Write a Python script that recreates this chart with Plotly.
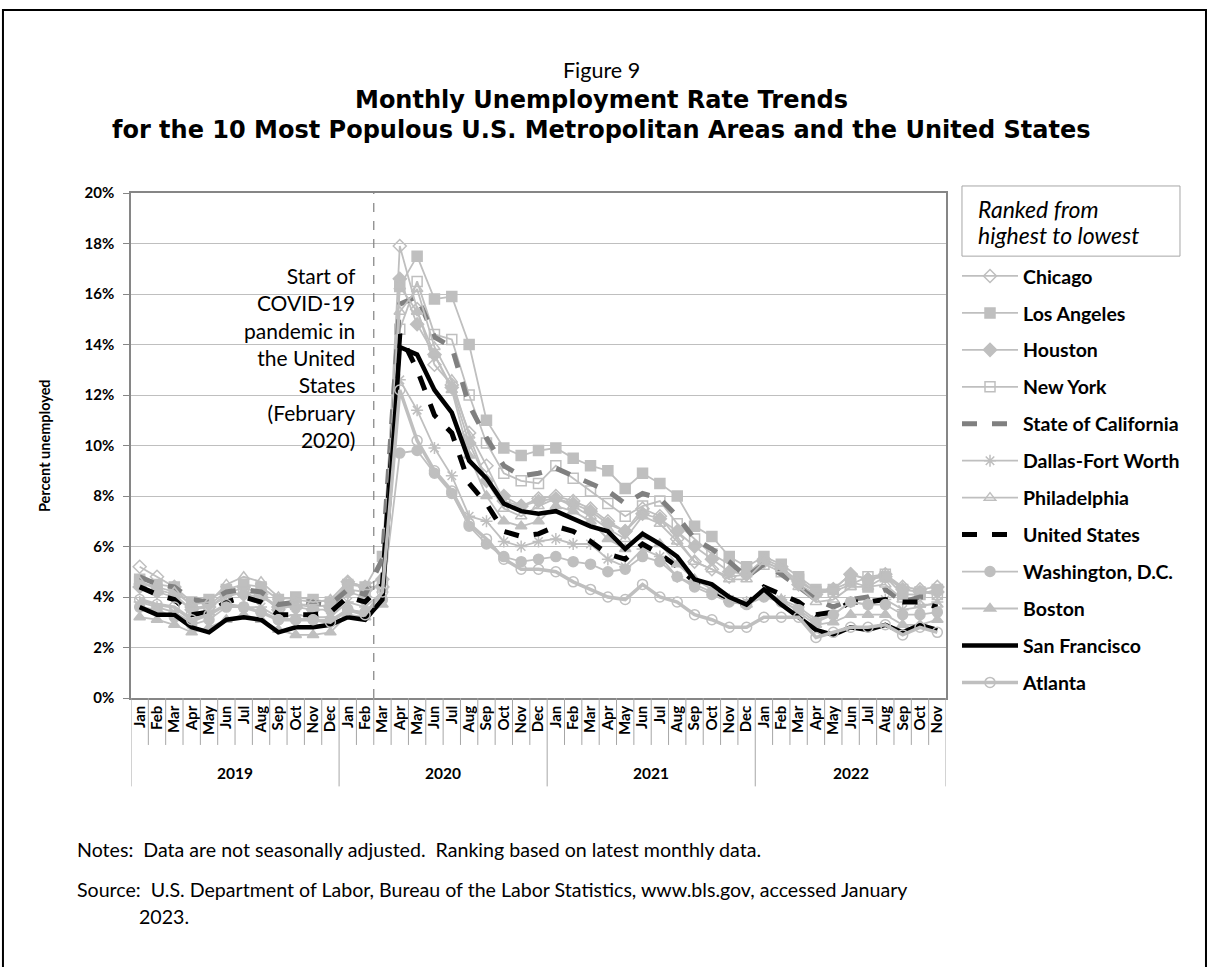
import plotly.graph_objects as go

# --- data (percent unemployed, not seasonally adjusted), Jan 2019 - Nov 2022 ---
month_names = ["Jan", "Feb", "Mar", "Apr", "May", "Jun", "Jul", "Aug", "Sep", "Oct", "Nov", "Dec"]
years = ["2019", "2020", "2021", "2022"]
months = month_names * 3 + month_names[:11]

chicago = [5.2, 4.8, 4.4, 3.6, 3.6, 4.1, 4.4, 4.1, 3.5, 3.7, 3.7, 3.6,
           4.6, 4.4, 4.4, 17.9, 15.4, 13.2, 12.4, 10.5, 9.2, 7.8, 7.6, 7.9,
           8.0, 7.8, 7.5, 7.0, 6.6, 7.5, 7.2, 6.3, 5.4, 5.1, 4.8, 4.9,
           5.5, 5.2, 4.6, 4.2, 4.3, 4.9, 4.7, 4.9, 4.4, 4.3, 4.4]
los_angeles = [4.7, 4.5, 4.4, 3.8, 3.9, 4.3, 4.5, 4.4, 3.9, 4.0, 3.9, 3.8,
               4.5, 4.4, 5.6, 16.3, 17.5, 15.8, 15.9, 14.0, 11.0, 9.9, 9.6, 9.8,
               9.9, 9.5, 9.2, 9.0, 8.3, 8.9, 8.5, 8.0, 6.8, 6.4, 5.6, 5.2,
               5.6, 5.3, 4.8, 4.3, 4.3, 4.6, 4.4, 4.8, 4.1, 4.1, 4.3]
houston = [4.4, 4.2, 4.0, 3.5, 3.7, 4.2, 4.1, 4.0, 3.6, 3.6, 3.5, 3.5,
           4.2, 4.0, 4.7, 16.6, 14.8, 13.6, 12.3, 10.1, 8.6, 8.0, 7.6, 7.8,
           7.9, 7.7, 7.4, 6.9, 6.6, 7.3, 7.1, 6.6, 6.0, 5.5, 5.0, 4.9,
           5.4, 5.1, 4.5, 4.1, 4.3, 4.9, 4.7, 4.8, 4.3, 4.2, 4.2]
new_york = [4.6, 4.3, 4.1, 3.5, 3.6, 4.0, 4.2, 4.1, 3.6, 3.7, 3.6, 3.7,
            4.3, 4.2, 4.5, 14.6, 16.5, 14.4, 14.2, 12.0, 10.1, 8.9, 8.6, 8.5,
            9.2, 8.7, 8.2, 7.7, 7.2, 7.6, 7.8, 6.9, 6.3, 5.7, 5.3, 5.0,
            5.3, 5.0, 4.7, 4.2, 4.2, 4.5, 4.8, 4.9, 4.3, 4.2, 4.1]
california = [4.8, 4.5, 4.4, 3.9, 3.8, 4.2, 4.3, 4.2, 3.7, 3.8, 3.8, 3.7,
              4.3, 4.1, 5.5, 15.6, 15.9, 14.3, 13.9, 11.6, 10.3, 9.2, 8.8, 8.9,
              9.1, 8.8, 8.5, 8.2, 7.7, 8.1, 7.9, 7.2, 6.3, 5.9, 5.4, 4.8,
              5.3, 4.9, 4.4, 3.9, 3.6, 3.9, 4.0, 4.3, 3.8, 4.0, 4.0]
dallas = [3.8, 3.6, 3.4, 3.0, 3.3, 3.7, 3.6, 3.6, 3.2, 3.3, 3.2, 3.2,
          3.8, 3.6, 4.2, 12.6, 11.4, 9.9, 8.8, 7.2, 7.0, 6.2, 6.0, 6.2,
          6.3, 6.1, 6.1, 5.5, 5.2, 5.9, 5.6, 4.8, 4.5, 4.2, 3.9, 3.8,
          4.1, 3.9, 3.6, 3.1, 3.3, 3.8, 3.7, 3.9, 3.5, 3.6, 3.8]
philadelphia = [4.6, 4.4, 4.2, 3.7, 3.8, 4.5, 4.8, 4.6, 4.0, 3.9, 3.8, 3.9,
                4.6, 4.4, 4.8, 15.3, 16.2, 13.9, 12.6, 10.4, 8.6, 7.5, 7.2, 7.6,
                7.9, 7.6, 7.2, 6.7, 6.3, 7.2, 6.9, 6.2, 5.4, 5.1, 4.7, 4.7,
                5.4, 5.1, 4.4, 3.8, 3.9, 4.4, 4.4, 4.5, 3.9, 3.7, 3.7]
united_states = [4.4, 4.1, 3.9, 3.3, 3.4, 3.8, 4.0, 3.8, 3.3, 3.3, 3.3, 3.4,
                 4.0, 3.8, 4.5, 14.4, 13.0, 11.2, 10.5, 8.5, 7.7, 6.6, 6.4, 6.5,
                 6.8, 6.6, 6.2, 5.7, 5.5, 6.1, 5.7, 5.2, 4.6, 4.3, 3.9, 3.7,
                 4.4, 4.1, 3.8, 3.3, 3.4, 3.8, 3.8, 3.9, 3.8, 3.8, 3.6]
washington = [3.6, 3.5, 3.2, 2.9, 3.1, 3.6, 3.6, 3.4, 3.1, 3.1, 3.1, 3.1,
              3.5, 3.4, 3.9, 9.7, 9.8, 8.9, 8.1, 6.8, 6.1, 5.6, 5.4, 5.5,
              5.6, 5.4, 5.3, 5.0, 5.1, 5.6, 5.4, 4.8, 4.4, 4.1, 3.8, 3.7,
              4.0, 3.8, 3.5, 3.0, 3.3, 3.8, 3.7, 3.7, 3.3, 3.3, 3.4]
boston = [3.2, 3.1, 2.9, 2.6, 2.8, 3.1, 3.3, 3.1, 2.7, 2.5, 2.5, 2.6,
          3.3, 3.2, 3.7, 16.3, 15.3, 13.6, 12.2, 9.6, 8.0, 7.0, 6.8, 7.0,
          7.6, 7.4, 7.0, 6.3, 5.9, 6.4, 6.1, 5.3, 4.7, 4.3, 3.9, 3.7,
          4.2, 3.9, 3.4, 2.9, 3.0, 3.3, 3.3, 3.3, 2.9, 2.9, 3.1]
san_francisco = [3.6, 3.3, 3.3, 2.8, 2.6, 3.1, 3.2, 3.1, 2.6, 2.8, 2.8, 2.9,
                 3.2, 3.1, 3.9, 13.9, 13.6, 12.2, 11.3, 9.4, 8.7, 7.7, 7.4, 7.3,
                 7.4, 7.1, 6.8, 6.6, 5.9, 6.5, 6.1, 5.6, 4.7, 4.5, 4.0, 3.7,
                 4.3, 3.7, 3.2, 2.7, 2.5, 2.8, 2.7, 2.9, 2.6, 2.9, 2.7]
atlanta = [3.9, 3.7, 3.6, 3.1, 3.3, 3.7, 3.6, 3.4, 3.1, 3.1, 3.1, 3.0,
           3.5, 3.3, 4.2, 12.2, 10.2, 9.0, 8.2, 6.9, 6.3, 5.5, 5.1, 5.1,
           5.0, 4.6, 4.3, 4.0, 3.9, 4.5, 4.0, 3.8, 3.3, 3.1, 2.8, 2.8,
           3.2, 3.2, 3.2, 2.4, 2.6, 2.8, 2.8, 2.9, 2.5, 2.8, 2.6]

FONT = "Lato, 'Open Sans', sans-serif"
TITLE_FONT = "'DejaVu Sans', sans-serif"
LIGHT = "#BFBFBF"
x = list(range(len(months)))

# name, values, line colour, width, dash, marker symbol
series = [
    ("Chicago", chicago, LIGHT, 1.8, "solid", "diamond-open"),
    ("Los Angeles", los_angeles, LIGHT, 1.8, "solid", "square"),
    ("Houston", houston, LIGHT, 1.8, "solid", "diamond"),
    ("New York", new_york, LIGHT, 1.8, "solid", "square-open"),
    ("State of California", california, "#808080", 5, "dash", None),
    ("Dallas-Fort Worth", dallas, LIGHT, 1.8, "solid", "asterisk-open"),
    ("Philadelphia", philadelphia, LIGHT, 1.8, "solid", "triangle-up-open"),
    ("United States", united_states, "#000000", 5, "dash", None),
    ("Washington, D.C.", washington, LIGHT, 1.8, "solid", "circle"),
    ("Boston", boston, LIGHT, 1.8, "solid", "triangle-up"),
    ("San Francisco", san_francisco, "#000000", 4.5, "solid", None),
    ("Atlanta", atlanta, LIGHT, 3.5, "solid", "circle-open"),
]

fig = go.Figure()
for i, (name, vals, color, width, dash, symbol) in enumerate(series):
    kw = dict(mode="lines")
    if symbol:
        kw = dict(mode="lines+markers",
                  marker=dict(symbol=symbol, size=10, color=color,
                              line=dict(color=color, width=1.5)))
    fig.add_trace(go.Scatter(x=x, y=vals, name=name, legendgroup=name,
                             line=dict(color=color, width=width, dash=dash),
                             **kw))

# category separators below the axis (month ticks and year blocks)
shapes = []
for i in range(len(months) + 1):
    b = i - 0.5
    is_year = (i % 12 == 0) or i == len(months)
    shapes.append(dict(type="line", xref="x", yref="paper", x0=b, x1=b,
                       y0=0, y1=-0.175 if is_year else -0.093,
                       line=dict(color="#A6A6A6", width=1)))
# start of pandemic marker
shapes.append(dict(type="line", xref="x", yref="paper", x0=13.5, x1=13.5,
                   y0=0, y1=1.0, line=dict(color="#808080", width=1.2, dash="dash")))
# legend heading box
shapes.append(dict(type="rect", xref="paper", yref="paper",
                   x0=1.0196, x1=1.2871, y0=0.875, y1=1.0139,
                   line=dict(color="#A6A6A6", width=1)))
# page frame
shapes.append(dict(type="rect", xref="paper", yref="paper",
                   x0=-0.1571, x1=1.3190, y0=-0.56, y1=1.3624,
                   line=dict(color="#000000", width=2)))

annotations = [
    dict(text="Figure 9", x=0.577, y=1.2436, font=dict(size=21.5)),
    dict(text="<b>Monthly Unemployment Rate Trends</b>", x=0.577, y=1.1842,
         font=dict(size=24, family=TITLE_FONT)),
    dict(text="<b>for the 10 Most Populous U.S. Metropolitan Areas and the United States</b>",
         x=0.577, y=1.1248, font=dict(size=24, family=TITLE_FONT)),
    dict(text="Start of<br>COVID-19<br>pandemic in<br>the United<br>States<br>(February<br>2020)",
         x=0.2785, y=0.866, xanchor="right", yanchor="top", align="right", font=dict(size=21)),
    dict(text="<i>Ranked from</i>", x=1.0368, y=0.968, xanchor="left", font=dict(size=23)),
    dict(text="<i>highest to lowest</i>", x=1.0368, y=0.9168, xanchor="left", font=dict(size=23)),
    dict(text="<b>Percent unemployed</b>", x=-0.106, y=0.5, textangle=-90, font=dict(size=14.5)),
    dict(text="Notes:  Data are not seasonally adjusted.  Ranking based on latest monthly data.",
         x=-0.0687, y=-0.3, xanchor="left", font=dict(size=19.6)),
    dict(text="Source:  U.S. Department of Labor, Bureau of the Labor Statistics, www.bls.gov, accessed January",
         x=-0.0687, y=-0.3792, xanchor="left", font=dict(size=19.6)),
    dict(text="2023.", x=0.0074, y=-0.4327, xanchor="left", font=dict(size=19.6)),
]
year_centers = [5.5, 17.5, 29.5, 41]
for yr, xc in zip(years, year_centers):
    annotations.append(dict(text="<b>" + yr + "</b>", x=xc, xref="x", y=-0.149,
                            font=dict(size=15.5)))
for a in annotations:
    a.setdefault("xref", "paper")
    a.setdefault("yref", "paper")
    a.setdefault("showarrow", False)
    a.setdefault("yanchor", "middle")
    a.setdefault("xanchor", "center")
    f = a.setdefault("font", {})
    f.setdefault("color", "#000000")

fig.update_layout(
    width=1209, height=967,
    margin=dict(l=131, r=263, t=193, b=269),
    paper_bgcolor="white", plot_bgcolor="white",
    font=dict(family=FONT, color="#000000"),
    showlegend=True,
    legend=dict(x=1.0135, y=0.8737, xanchor="left", yanchor="top",
                font=dict(size=19.5, weight="bold"), tracegroupgap=8.6,
                itemwidth=56, bgcolor="rgba(0,0,0,0)"),
    shapes=shapes,
    annotations=annotations,
)
fig.update_xaxes(range=[-0.5, len(months) - 0.5], tickmode="array", tickvals=x,
                 ticktext=["<b>" + m + "</b>" for m in months], tickangle=-90,
                 tickfont=dict(size=15), ticks="", showgrid=False, zeroline=False,
                 showline=True, linecolor="#868686", linewidth=1.5, mirror=True)
fig.update_yaxes(range=[0, 20], dtick=2, ticksuffix="%", tickfont=dict(size=15, weight="bold"),
                 showgrid=True, gridcolor="#BFBFBF", gridwidth=1.3, zeroline=False,
                 ticks="outside", ticklen=6, tickcolor="#868686", ticklabelstandoff=6,
                 showline=True, linecolor="#868686", linewidth=1.5, mirror=True)

fig.write_html("out.html", config={"displayModeBar": False},
               post_script="document.body.style.margin='0px';")
